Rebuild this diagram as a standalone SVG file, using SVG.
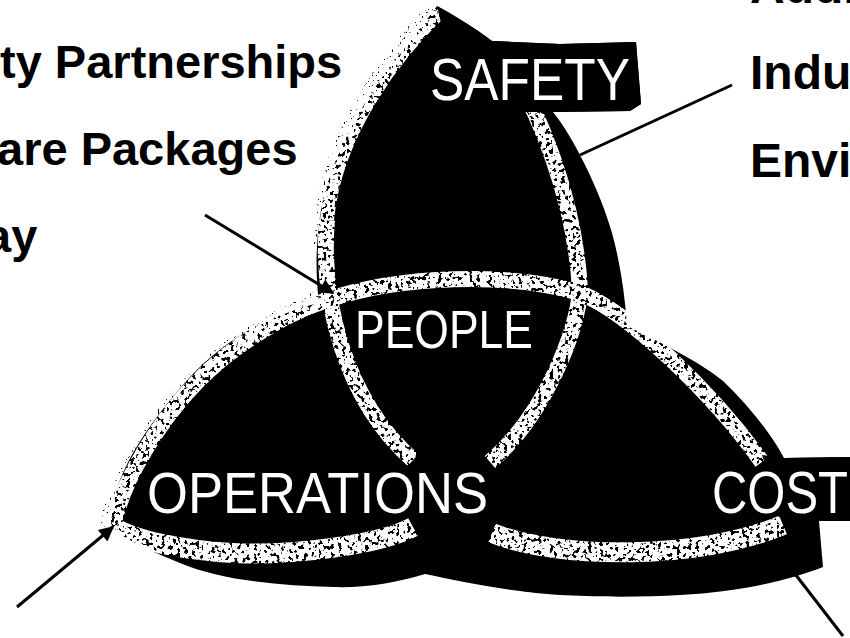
<svg xmlns="http://www.w3.org/2000/svg" width="850" height="638" viewBox="0 0 850 638">
<style>
  .side{font-family:'Liberation Sans',Arial,Helvetica,sans-serif;font-weight:bold;font-size:47px;fill:#000}
  .lbl{font-family:'Liberation Sans',Arial,Helvetica,sans-serif;fill:#fff}
  .band{fill:none;stroke:#fff;stroke-linecap:butt;stroke-width:16}
  .wide{stroke-width:20}
  .halo{fill:none;stroke:#000;stroke-width:24}
  .conn{stroke:#000;stroke-width:3;fill:none}
</style>
<defs>
  <filter id="grain" filterUnits="userSpaceOnUse" x="0" y="0" width="850" height="638" color-interpolation-filters="sRGB">
    <feTurbulence type="fractalNoise" baseFrequency="0.26" numOctaves="2" seed="4" result="n"/>
    <feColorMatrix in="n" type="matrix" values="0 0 0 0 0  0 0 0 0 0  0 0 0 0 0  -16 0 0 0 10" result="m"/>
    <feComposite in="SourceGraphic" in2="m" operator="in"/>
  </filter>
  <filter id="sparse" filterUnits="userSpaceOnUse" x="0" y="0" width="850" height="638" color-interpolation-filters="sRGB">
    <feTurbulence type="fractalNoise" baseFrequency="0.5" numOctaves="1" seed="9" result="n"/>
    <feColorMatrix in="n" type="matrix" values="0 0 0 0 0  0 0 0 0 0  0 0 0 0 0  16 0 0 0 -10.6" result="m"/>
    <feComposite in="SourceGraphic" in2="m" operator="in"/>
  </filter>
  <marker id="arrow" viewBox="0 0 10 10" refX="9" refY="5" markerWidth="6" markerHeight="5" orient="auto" markerUnits="strokeWidth">
    <path d="M0,0 L10,5 L0,10 z" fill="#000"/>
  </marker>
</defs>

<!-- side texts -->
<g id="left-list">
  <text class="side" x="0" y="78">ty Partnerships</text>
  <text class="side" x="-3" y="165">are Packages</text>
  <text class="side" x="-15" y="252">ay</text>
</g>
<g id="right-list">
  <text class="side" x="750" y="3" style="font-size:48px">Audi</text>
  <text class="side" x="750" y="89" style="font-size:48px">Indu</text>
  <text class="side" x="750" y="177" style="font-size:48px">Envi</text>
</g>

<!-- triquetra shape -->
<g id="triquetra">
  <g filter="url(#sparse)">
    <path class="halo" d="M440,10 C400,50 335,130 327,220 C320,300 345,400 413,460"/>
    <path class="halo" d="M110,528 C122,480 160,420 196,383 C232,346 280,316 327,300"/>
  </g>
  <path id="silhouette" fill="#000" d="M437,6 C452,14 472,26 492,41 L560,44 L636,42 L641,104 L630,111 L553,112
    C572,135 600,190 612,233 C620,262 625,295 627,326
    C660,342 700,362 723,381 C748,405 770,432 784,458
    L850,457 L850,521 L819,521 L823,567
    C790,580 740,592 680,595 C630,598 560,597 520,591 C480,586 450,579 425,574
    C395,583 365,588 333,587 C280,586 220,580 180,563 C150,551 128,540 110,528
    C113,505 116,488 123,473 C135,445 160,410 190,377 C215,350 250,325 287,313
    C300,308 310,305 319,303 C315,270 316,240 321,210 C330,160 360,105 395,60
    C410,42 425,22 437,6 Z"/>
  <g filter="url(#grain)">
    <!-- arc 1 -->
    <path class="band" d="M500,50 C540,110 575,200 580,290 C578,330 545,415 490,462"/>
    <path class="band wide" d="M413,527 C380,545 290,556 233,553 C180,550 135,540 113,527"/>
    <!-- arc 2 -->
    <path class="band" style="stroke-width:14" d="M440,12 C400,50 335,130 327,220"/>
    <path class="band" d="M327,220 C320,300 345,400 413,460"/>
    <path class="band wide" d="M492,533 C560,560 700,560 783,525"/>
    <!-- arc 3 -->
    <path class="band" d="M113,527 C122,480 160,420 196,383 C232,346 280,316 327,300 C400,275 510,272 580,293 C628,312 712,392 762,462"/>
  </g>
</g>

<g id="safety">
  <path fill="#000" d="M437,6 C452,14 472,26 492,41 L560,44 L636,42 L641,104 L630,111 L553,112 L430,112 L445,40 Z"/>
  <text class="lbl" x="430" y="100" font-size="60" textLength="200" lengthAdjust="spacingAndGlyphs">SAFETY</text>
</g>
<g id="people">
  <text class="lbl" x="355" y="348" font-size="53" textLength="178" lengthAdjust="spacingAndGlyphs">PEOPLE</text>
</g>
<g id="operations">
  <text class="lbl" x="147" y="513" font-size="57" textLength="341" lengthAdjust="spacingAndGlyphs">OPERATIONS</text>
</g>
<g id="cost">
  <path fill="#000" d="M762,455 L784,458 L850,457 L850,521 L819,521 L800,530 L788,523 L775,495 Z"/>
  <text class="lbl" x="712" y="513" font-size="60" textLength="136" lengthAdjust="spacingAndGlyphs">COST</text>
</g>

<g id="connectors">
  <line class="conn" x1="205" y1="215" x2="333" y2="293" marker-end="url(#arrow)"/>
  <line class="conn" x1="732" y1="85" x2="580" y2="155"/>
  <line class="conn" x1="17" y1="607" x2="113" y2="527" marker-end="url(#arrow)"/>
  <line class="conn" x1="843" y1="636" x2="792" y2="570"/>
</g>
</svg>
